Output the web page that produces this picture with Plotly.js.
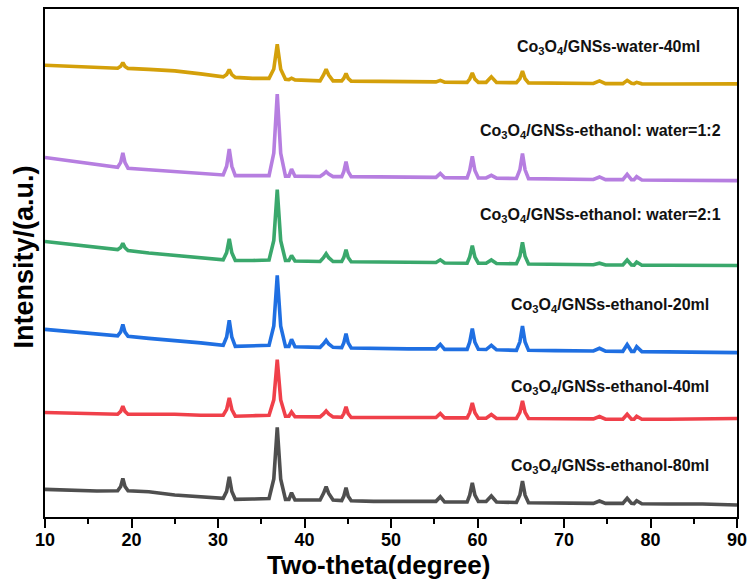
<!DOCTYPE html>
<html>
<head>
<meta charset="utf-8">
<script src="https://cdn.plot.ly/plotly-3.0.1.min.js"></script>
<style>html,body{margin:0;padding:0;background:#fff;}#chart{width:751px;height:579px;}</style>
</head>
<body>
<div id="chart"></div>
<script>
// Two-theta positions (degree)
const twoTheta = [10, 13, 16, 18.4, 18.75, 19.0, 19.25, 19.6, 22, 25, 28, 30.6, 31.0, 31.3, 31.6, 32.0, 34, 35.9, 36.45, 36.85, 37.25, 37.8, 38.2, 38.5, 38.9, 40, 41.8, 42.2, 42.5, 42.8, 43.3, 44.3, 44.55, 44.8, 45.05, 45.4, 48, 52, 55.2, 55.7, 56.2, 58.8, 59.1, 59.4, 59.7, 60.1, 61.0, 61.6, 62.2, 64.5, 64.9, 65.2, 65.5, 65.9, 69, 72, 73.4, 74.1, 74.8, 76.8, 77.3, 77.8, 78.1, 78.4, 79.0, 82, 86, 90];

// Intensities (a.u., stacked with offsets as in the figure)
const ethanol80 = [27.7, 26.5, 26, 26.3, 30.6, 38.7, 30.6, 26.3, 25.3, 22, 20, 18.7, 25.7, 40.3, 25.5, 17.7, 18, 18.5, 38.1, 89.7, 37.8, 17.7, 17.7, 24.3, 17, 17, 17, 23.7, 30.3, 23.6, 17, 16.5, 21, 29.3, 20.8, 16.3, 15.7, 15.7, 15.7, 20.3, 15, 15, 21.8, 34.3, 21.8, 15.5, 15.5, 21, 15, 14.5, 22, 36, 21.9, 14.3, 13.7, 13.7, 13.7, 16, 13.7, 13.7, 18.7, 13.7, 13.5, 16.3, 13.3, 13, 13, 12];
const ethanol40 = [104.7, 104, 103.5, 103, 105.8, 111, 105.8, 103, 103, 103, 102, 102, 107.9, 119.3, 107.7, 101, 101.5, 102, 117.4, 157.7, 117.2, 101, 101, 105.3, 100.5, 100.3, 100.3, 103.3, 106.3, 103.2, 100.3, 100, 103.6, 110.3, 103.5, 99.7, 99.7, 99.7, 99.7, 103.7, 99.3, 99.3, 104.5, 114.3, 104.4, 99, 99, 102.7, 98.7, 98.7, 104.9, 116.3, 104.8, 98.7, 98.3, 98.3, 98.3, 100.7, 98, 98, 103, 98, 98, 101, 98, 98, 98, 98.7];
const ethanol20 = [188, 185.5, 183, 181.5, 185.4, 193, 185.2, 181, 179, 177, 174.5, 172, 180.4, 197, 180.2, 171, 171.5, 172, 191.4, 242, 191.1, 171, 171, 178, 170.5, 170.3, 170, 173.5, 177, 173.4, 170, 169.7, 174.6, 183.7, 174.4, 169.3, 168.8, 168.5, 168.5, 173, 168, 168, 175.2, 188.7, 175.1, 168, 167.8, 172, 167.5, 167, 175.5, 191.3, 175.4, 167, 166.7, 166.5, 166.4, 169, 166.2, 166, 172.7, 166, 166, 170.7, 165.7, 165.5, 165, 164.7];
const ratio21 = [276, 273, 270, 268, 270, 274.3, 269.8, 267, 264.5, 262, 259.5, 257.7, 264.9, 278.7, 264.7, 257, 257, 257.5, 277.1, 328, 276.9, 257, 257, 262, 256.5, 256.3, 256, 259.9, 263.7, 259.8, 256, 256, 260.1, 267.7, 260, 255.7, 255.3, 255, 255, 257.7, 254.5, 254.3, 260.5, 272, 260.4, 254.3, 254.2, 257.5, 254, 253.7, 261.3, 275.3, 261.2, 253.5, 253, 252.8, 252.7, 254.3, 252.5, 252.5, 257.5, 252.5, 252.4, 255.5, 252.3, 252.2, 252, 252];
const ratio12 = [360.3, 356.5, 353, 350.5, 355.3, 364.7, 355.1, 349.5, 348, 346, 344, 342.7, 351.5, 368.7, 351.3, 342, 342, 342, 364.7, 423.7, 364.4, 341.5, 341.5, 348.7, 341.5, 341.3, 341.2, 343.6, 346, 343.5, 341, 341, 346.3, 356, 346.1, 341, 340.7, 340.5, 340.3, 344.3, 340, 339.8, 347.3, 361.3, 347.2, 339.7, 339.7, 342.3, 339.5, 339.2, 348, 364.3, 347.9, 339, 338.5, 338.3, 338.2, 340.7, 338, 338, 343.3, 338, 337.9, 341, 337.7, 337.4, 337, 337];
const water40 = [452.7, 451.5, 450.5, 449.7, 451.6, 455.3, 451.5, 449.5, 448.5, 447, 444, 441, 443.4, 448.3, 443.2, 440.5, 439.5, 439.5, 448.9, 473.7, 448.7, 438.5, 438.3, 439.7, 438, 437.5, 437, 442.9, 448.7, 442.8, 437, 437, 439.6, 444.3, 439.5, 436.7, 436.5, 436.2, 436, 437.5, 435.7, 435.5, 438.8, 445, 438.7, 435.5, 435.5, 441, 435.3, 435.2, 439.2, 446.7, 439.1, 435, 434.5, 434.4, 434.4, 437, 434.2, 434.2, 437.5, 434.5, 434.3, 435.5, 434, 433.8, 433.7, 434];

const seriesNames = ['Co3O4/GNSs-ethanol-80ml', 'Co3O4/GNSs-ethanol-40ml', 'Co3O4/GNSs-ethanol-20ml', 'Co3O4/GNSs-ethanol: water=2:1', 'Co3O4/GNSs-ethanol: water=1:2', 'Co3O4/GNSs-water-40ml'];
const seriesLabels = ['Co<sub>3</sub>O<sub>4</sub>/GNSs-ethanol-80ml', 'Co<sub>3</sub>O<sub>4</sub>/GNSs-ethanol-40ml', 'Co<sub>3</sub>O<sub>4</sub>/GNSs-ethanol-20ml', 'Co<sub>3</sub>O<sub>4</sub>/GNSs-ethanol: water=2:1', 'Co<sub>3</sub>O<sub>4</sub>/GNSs-ethanol: water=1:2', 'Co<sub>3</sub>O<sub>4</sub>/GNSs-water-40ml'];
const labelX = [75.3, 75.3, 75.3, 74.2, 74.2, 75.1];
const labelY = [51, 130, 212, 302, 386, 470];
const xTicks = [10, 20, 30, 40, 50, 60, 70, 80, 90];
const xTitle = 'Two-theta(degree)';
const yTitle = 'Intensity/(a.u.)';

const seriesData = [ethanol80, ethanol40, ethanol20, ratio21, ratio12, water40];
const colors = ['#4f4f4f', '#f0404a', '#1f6fe2', '#3aa86c', '#b67ee0', '#d4a00a'];

const traces = seriesData.map((ys, i) => ({
  x: twoTheta, y: ys, type: 'scatter', mode: 'lines', name: seriesNames[i],
  line: {color: colors[i], width: 3.6}, hoverinfo: 'x+y+name'
}));

const annotations = seriesLabels.map((t, i) => ({
  x: labelX[i], y: labelY[i], xref: 'x', yref: 'y', text: t, showarrow: false,
  xanchor: 'center', yanchor: 'middle',
  font: {family: 'Liberation Sans, Arial, sans-serif', size: 16, color: '#111', weight: 'bold'}
}));
// axis titles placed as in the reference
annotations.push({
  x: 0.482, y: -0.0945, xref: 'paper', yref: 'paper', text: xTitle, showarrow: false,
  xanchor: 'center', yanchor: 'middle',
  font: {family: 'Liberation Sans, Arial, sans-serif', size: 26, color: '#000', weight: 'bold'}
});
annotations.push({
  x: -0.031, y: 0.512, xref: 'paper', yref: 'paper', text: yTitle, showarrow: false,
  textangle: -90, xanchor: 'center', yanchor: 'middle',
  font: {family: 'Liberation Sans, Arial, sans-serif', size: 27, color: '#000', weight: 'bold'}
});

const layout = {
  width: 751, height: 579,
  margin: {l: 45, r: 14, t: 9, b: 62},
  paper_bgcolor: '#fff', plot_bgcolor: '#fff',
  showlegend: false,
  xaxis: {
    range: [10, 90], tickvals: xTicks, ticktext: xTicks.map(String),
    ticks: 'outside', ticklen: 9, tickwidth: 2, tickcolor: '#000',
    minor: {dtick: 5, ticks: 'outside', ticklen: 5, tickwidth: 2, tickcolor: '#000'},
    showline: true, linewidth: 2, linecolor: '#000', mirror: true,
    showgrid: false, zeroline: false,
    ticklabelstandoff: -4,
    tickfont: {family: 'Liberation Sans, Arial, sans-serif', size: 18, color: '#000', weight: 'bold'}
  },
  yaxis: {
    range: [0, 509], showticklabels: false, ticks: '',
    showline: true, linewidth: 2, linecolor: '#000', mirror: true,
    showgrid: false, zeroline: false
  },
  annotations: annotations
};

Plotly.newPlot('chart', traces, layout, {displayModeBar: false, staticPlot: true});
</script>
</body>
</html>
